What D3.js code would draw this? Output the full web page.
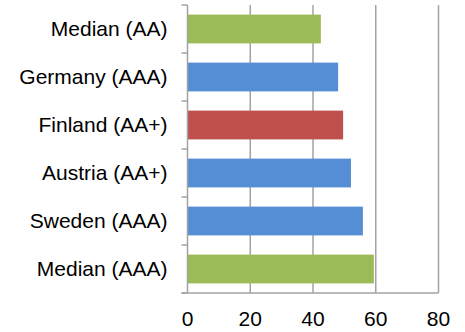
<!DOCTYPE html>
<html>
<head>
<meta charset="utf-8">
<script src="https://cdn.jsdelivr.net/npm/d3@7"></script>
<style>
  body { margin: 0; background: #fff; }
  text { font-family: "Liberation Sans", Arial, sans-serif; fill: #000; }
</style>
</head>
<body>
<script>
  var width = 465;
  var height = 332;

  var categories = ['Median (AA)', 'Germany (AAA)', 'Finland (AA+)', 'Austria (AA+)', 'Sweden (AAA)', 'Median (AAA)'];
  var values = [42.5, 48.0, 49.6, 52.1, 55.9, 59.4];
  var barColors = ['#9bbb59', '#558ed5', '#c0504d', '#558ed5', '#558ed5', '#9bbb59'];
  var xTicks = [0, 20, 40, 60, 80];

  var margin = {top: 5, right: 26.5, bottom: 39, left: 187.5};
  var w = width - margin.left - margin.right;
  var h = height - margin.top - margin.bottom;

  var svg = d3.select("body")
    .append("svg")
    .attr("width", width)
    .attr("height", height);

  var g = svg.append("g")
    .attr("transform", "translate(" + margin.left + "," + margin.top + ")");

  var x = d3.scaleLinear().domain([0, 80]).range([0, w]);
  var y = d3.scaleBand().domain(categories).range([0, h]).paddingInner(0.4).paddingOuter(0.2);

  // gridlines
  g.selectAll("line.grid")
    .data(xTicks.slice(1))
    .enter()
    .append("line")
    .attr("class", "grid")
    .attr("x1", function(d) { return x(d); })
    .attr("x2", function(d) { return x(d); })
    .attr("y1", 0)
    .attr("y2", h)
    .style("stroke", "#a3a3a3")
    .style("stroke-width", 1.5);

  // bars
  g.selectAll("rect")
    .data(values)
    .enter()
    .append("rect")
    .attr("x", x(0))
    .attr("y", function(d, i) { return y(categories[i]); })
    .attr("width", function(d) { return x(d) - x(0); })
    .attr("height", y.bandwidth())
    .style("fill", function(d, i) { return barColors[i]; });

  // category axis with ticks between bands
  var bandStep = y.step();
  var boundaries = d3.range(categories.length + 1).map(function(i) { return i * h / categories.length; });
  g.selectAll("line.ytick")
    .data(boundaries)
    .enter()
    .append("line")
    .attr("x1", -6)
    .attr("x2", 0)
    .attr("y1", function(d) { return d; })
    .attr("y2", function(d) { return d; })
    .style("stroke", "#a3a3a3")
    .style("stroke-width", 1.5);

  g.append("line")
    .attr("x1", 0).attr("x2", 0)
    .attr("y1", 0).attr("y2", h)
    .style("stroke", "#a3a3a3")
    .style("stroke-width", 1.5);

  g.append("line")
    .attr("x1", -6).attr("x2", w)
    .attr("y1", h).attr("y2", h)
    .style("stroke", "#a3a3a3")
    .style("stroke-width", 1.5);

  g.selectAll("text.ylab")
    .data(categories)
    .enter()
    .append("text")
    .attr("class", "ylab")
    .attr("x", -20)
    .attr("y", function(d) { return y(d) + y.bandwidth() / 2; })
    .attr("dy", "0.35em")
    .attr("text-anchor", "end")
    .style("font-size", "21px")
    .text(function(d) { return d; });

  g.selectAll("text.xlab")
    .data(xTicks)
    .enter()
    .append("text")
    .attr("class", "xlab")
    .attr("x", function(d) { return x(d); })
    .attr("y", h + 33)
    .attr("text-anchor", "middle")
    .style("font-size", "21px")
    .text(function(d) { return d; });
</script>
</body>
</html>
